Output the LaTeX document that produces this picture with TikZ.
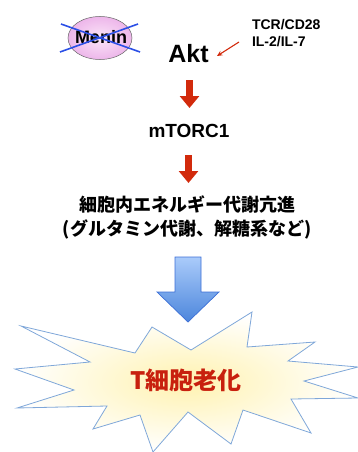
\documentclass[tikz,border=0pt]{standalone}
\usepackage{fontspec}
\setmainfont{Liberation Sans}
\newfontfamily\cjk{Noto Sans CJK JP}
\usetikzlibrary{arrows.meta}
\definecolor{arrred}{HTML}{D22A0C}
\definecolor{txtred}{HTML}{C8200E}
\definecolor{crossblue}{HTML}{2B4FE6}
\definecolor{burstline}{HTML}{7FA7D9}
\definecolor{burstfill}{HTML}{FFF2B0}
\definecolor{bluetop}{HTML}{AACBFA}
\definecolor{bluebot}{HTML}{4C86DC}
\definecolor{blueline}{HTML}{3C6FD6}
\definecolor{pinkin}{HTML}{FBE6F8}
\definecolor{pinkout}{HTML}{EDB6EA}
\tikzset{
  lbl/.style={inner sep=0pt, outer sep=0pt, font=\bfseries},
  redblock/.style={arrred, line width=7.5pt, -{Triangle[width=19pt,length=12pt]}},
  crossline/.style={crossblue, line width=1.6pt},
}
\begin{document}
\begin{tikzpicture}[x=1pt,y=-1pt]
\useasboundingbox (0,0) rectangle (358,452);
% Menin
\shade[inner color=pinkin, outer color=pinkout, draw=gray!80!black, line width=0.5pt] (100,38) ellipse [x radius=32pt, y radius=21.5pt];
\node[lbl, anchor=base, font=\bfseries\fontsize{18}{20}\selectfont] (menin) at (101,43.5) {Menin};
\draw[crossline] (61,24) -- (140,52);
\draw[crossline] (60,52) -- (138,24);
% Akt
\node[lbl, anchor=base, font=\bfseries\fontsize{25}{30}\selectfont] (akt) at (188.5,63) {Akt};
\node[lbl, anchor=base west, font=\bfseries\fontsize{14}{17}\selectfont, align=left] (tcr) at (252,30) {TCR/CD28};
\node[lbl, anchor=base west, font=\bfseries\fontsize{14}{17}\selectfont] (il) at (252,47) {IL-2/IL-7};
\coordinate (sigs) at (239,42);
\coordinate (sige) at (217,56);
\draw[arrred, line width=1.1pt, -{Stealth[length=5.5pt,width=5pt]}] (sigs) -- (sige);
% mTORC1
\coordinate (a1s) at (189.5,80);
\coordinate (a1e) at (189.5,108);
\draw[redblock] (a1s) -- (a1e);
\node[lbl, anchor=base, font=\bfseries\fontsize{19}{22}\selectfont] (mtor) at (189,137) {mTORC1};
\coordinate (a2s) at (188.5,155);
\coordinate (a2e) at (188.5,183);
\draw[redblock] (a2s) -- (a2e);
% Japanese lines
\node[lbl, font=\cjk\bfseries\fontsize{18}{22}\selectfont] (met1) at (187,204) {細胞内エネルギー代謝亢進};
\node[lbl, font=\cjk\bfseries\fontsize{18}{22}\selectfont] (met2) at (187,229) {(グルタミン代謝、解糖系など)};
% blue block arrow
\shadedraw[top color=bluetop, bottom color=bluebot, draw=blueline, line width=0.7pt, line join=miter]
  (175,257) -- (201,257) -- (201,292) -- (219,292) -- (188,322) -- (157,292) -- (175,292) -- cycle;
% starburst
\shadedraw[inner color=burstfill, outer color=white, draw=burstline, line width=0.8pt, line join=miter]
  (21,326) -- (135,353) -- (152,327) -- (191,350) -- (252,312) -- (247,347)
  -- (315,342) -- (288,361) -- (358,367) -- (304,381) -- (358,398) -- (291,399)
  -- (311,433) -- (243,410) -- (231,444) -- (188,412) -- (153,452) -- (140,415)
  -- (93,429) -- (107,406) -- (17,408) -- (74,390) -- (15,369) -- (90,362) -- cycle;
\node[lbl, text=txtred, font=\cjk\bfseries\fontsize{24}{28}\selectfont] (aging) at (186,380) {T細胞老化};
\end{tikzpicture}
\end{document}
